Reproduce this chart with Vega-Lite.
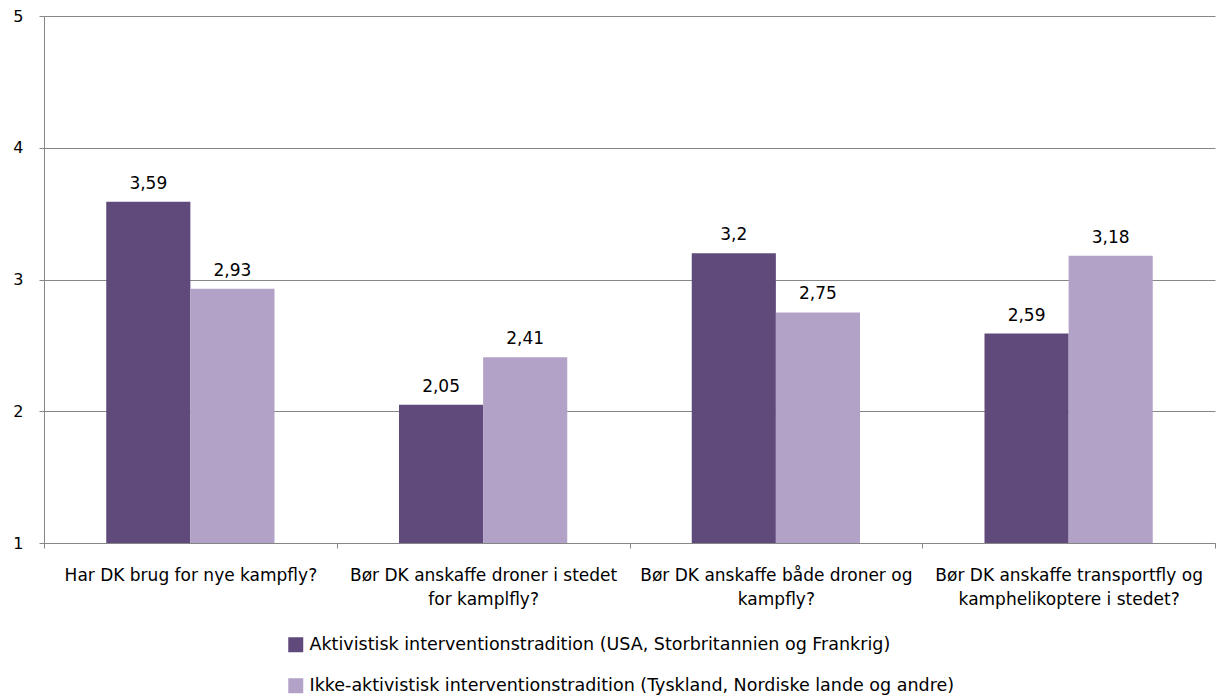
{
  "$schema": "https://vega.github.io/schema/vega-lite/v6.json",
  "width": 1171,
  "height": 527,
  "autosize": "none",
  "padding": {"left": 44, "top": 16, "right": 8, "bottom": 156},
  "config": {
    "font": "DejaVu Sans",
    "view": {"stroke": null},
    "locale": {"number": {"decimal": ",", "thousands": ".", "grouping": [3], "currency": ["", " kr"]}}
  },
  "data": {
    "values": [
      {"q": "Har DK brug for nye kampfly?", "order": 1, "group": "Aktivistisk interventionstradition (USA,  Storbritannien og Frankrig)", "value": 3.59},
      {"q": "Har DK brug for nye kampfly?", "order": 1, "group": "Ikke-aktivistisk interventionstradition (Tyskland, Nordiske lande og andre)", "value": 2.93},
      {"q": "Bør DK anskaffe droner i stedet|for kamplfly?", "order": 2, "group": "Aktivistisk interventionstradition (USA,  Storbritannien og Frankrig)", "value": 2.05},
      {"q": "Bør DK anskaffe droner i stedet|for kamplfly?", "order": 2, "group": "Ikke-aktivistisk interventionstradition (Tyskland, Nordiske lande og andre)", "value": 2.41},
      {"q": "Bør DK anskaffe både droner og|kampfly?", "order": 3, "group": "Aktivistisk interventionstradition (USA,  Storbritannien og Frankrig)", "value": 3.2},
      {"q": "Bør DK anskaffe både droner og|kampfly?", "order": 3, "group": "Ikke-aktivistisk interventionstradition (Tyskland, Nordiske lande og andre)", "value": 2.75},
      {"q": "Bør DK anskaffe transportfly og|kamphelikoptere i stedet?", "order": 4, "group": "Aktivistisk interventionstradition (USA,  Storbritannien og Frankrig)", "value": 2.59},
      {"q": "Bør DK anskaffe transportfly og|kamphelikoptere i stedet?", "order": 4, "group": "Ikke-aktivistisk interventionstradition (Tyskland, Nordiske lande og andre)", "value": 3.18}
    ]
  },
  "encoding": {
    "x": {
      "field": "q", "type": "nominal", "sort": {"field": "order"},
      "scale": {"paddingInner": 0, "paddingOuter": 0},
      "axis": {
        "title": null, "labelAngle": 0, "tickBand": "extent",
        "labelExpr": "split(datum.label, '|')", "labelLimit": 400,
        "labelFontSize": 17, "labelColor": "#000000", "labelPadding": 19, "labelLineHeight": 24,
        "domainColor": "#868686", "tickColor": "#868686", "tickSize": 5, "grid": false
      }
    },
    "xOffset": {"field": "group", "type": "nominal", "scale": {"paddingInner": 0, "paddingOuter": 0.74}},
    "y": {
      "field": "value", "type": "quantitative",
      "scale": {"domain": [1, 5], "nice": false, "zero": false},
      "axis": {
        "title": null, "values": [1, 2, 3, 4, 5], "format": "d", "labelOverlap": false,
        "labelFontSize": 16, "labelColor": "#000000", "labelPadding": 16,
        "domainColor": "#868686", "tickColor": "#868686", "tickSize": 5,
        "gridColor": "#868686", "gridWidth": 1
      }
    }
  },
  "layer": [
    {
      "mark": {"type": "bar"},
      "encoding": {
        "y2": {"datum": 1},
        "color": {
          "field": "group", "type": "nominal",
          "scale": {"range": ["#604A7B", "#B3A2C7"]},
          "legend": {
            "title": null, "orient": "none", "legendX": 243, "legendY": 620,
            "direction": "vertical", "columns": 1,
            "symbolType": "square", "symbolSize": 225, "symbolStrokeWidth": 0,
            "labelFontSize": 17.5, "labelColor": "#000000", "rowPadding": 22, "labelOffset": 5,
            "labelLimit": 900
          }
        }
      }
    },
    {
      "mark": {"type": "text", "baseline": "bottom", "dy": -9, "fontSize": 17, "color": "#000000"},
      "encoding": {
        "text": {"field": "value", "type": "quantitative", "format": ".3~g"}
      }
    }
  ]
}
